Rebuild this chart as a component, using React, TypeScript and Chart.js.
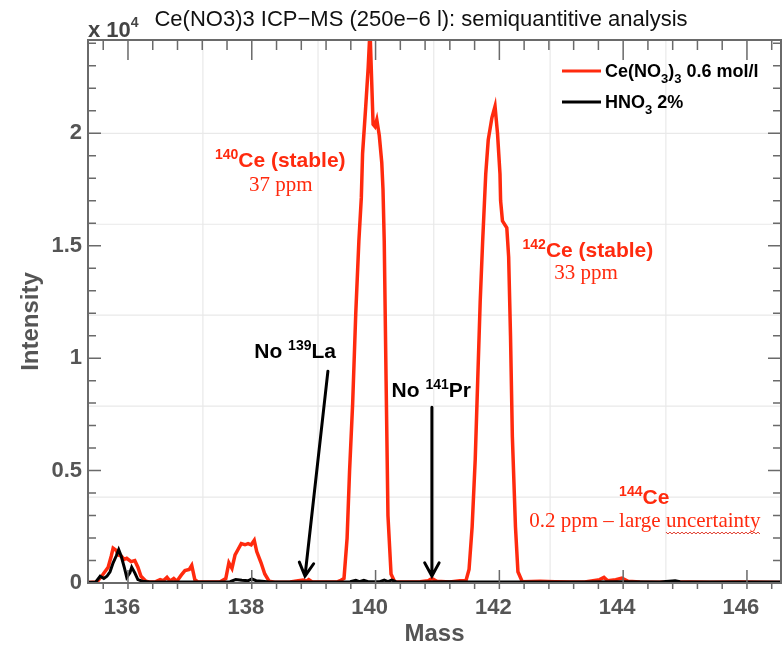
import React, { useEffect, useRef } from 'react';
import { Chart, registerables } from 'chart.js';

Chart.register(...registerables);

// ---------- data ----------
const massCe = [
  135.354, 135.5, 135.6, 135.68, 135.73, 135.76, 135.81, 135.84, 135.89, 135.94, 135.98,
  136.05, 136.11, 136.16, 136.21, 136.29, 136.36, 136.45, 136.52, 136.57, 136.63, 136.68,
  136.74, 136.79, 136.86, 136.92, 136.99, 137.03, 137.08, 137.13, 137.32, 137.49, 137.58,
  137.63, 137.68, 137.73, 137.78, 137.83, 137.89, 137.94, 137.99, 138.04, 138.08, 138.15,
  138.21, 138.28, 138.37, 138.62, 138.75, 138.83, 138.88, 138.92, 138.97, 139.1, 139.26,
  139.39, 139.44, 139.49, 139.54, 139.58, 139.63, 139.68, 139.73, 139.77, 139.79, 139.84,
  139.88, 139.91, 139.96, 139.99, 140.02, 140.06, 140.1, 140.12, 140.14, 140.17, 140.2,
  140.25, 140.31, 140.56, 140.72, 140.85, 140.91, 140.99, 141.2, 141.36, 141.46, 141.51,
  141.56, 141.61, 141.65, 141.69, 141.73, 141.78, 141.82, 141.88, 141.93, 141.97, 142.01,
  142.02, 142.05, 142.12, 142.15, 142.18, 142.21, 142.26, 142.3, 142.37, 142.66, 142.9,
  143.14, 143.38, 143.62, 143.69, 143.75, 143.88, 143.98, 144.08, 144.27, 144.6, 145.08,
  145.4, 145.89, 146.55,
];
const intensityCe = [
  20, 50, 400, 700, 1200, 1550, 1450, 1250, 1200, 1050, 1100,
  950, 1000, 700, 300, 80, 40, 60, 150, 100, 250, 80,
  200, 80, 350, 550, 600, 780, 150, 50, 40, 60, 200,
  900, 650, 1250, 1500, 1750, 1700, 1750, 1700, 1900, 1400, 900,
  400, 80, 30, 40, 100, 130, 80, 150, 60, 50, 40,
  60, 120, 200, 2000, 5000, 8000, 12000, 15200, 17150, 19100, 21150,
  22900, 24600, 20400, 20300, 20600, 19900, 18700, 17500, 15200, 9000, 3000,
  400, 50, 40, 60, 100, 200, 80, 50, 100, 100, 600,
  2500, 5500, 9000, 12500, 15200, 18200, 19700, 20700, 21200, 20000, 18200,
  17000, 16100, 15800, 14500, 11000, 6500, 2500, 500, 60, 80, 60,
  40, 50, 150, 250, 100, 150, 220, 80, 40, 30, 50,
  30, 40, 20,
];
const massHNO3 = [
  135.354, 135.48, 135.55, 135.61, 135.66, 135.71, 135.76, 135.81, 135.85, 135.89, 135.94,
  135.98, 136.03, 136.06, 136.11, 136.16, 136.23, 136.36, 136.76, 137.16, 137.65, 137.74,
  137.84, 137.94, 138.0, 138.07, 138.16, 138.29, 138.78, 139.59, 139.68, 139.74, 139.81,
  139.88, 140.07, 140.14, 140.2, 140.26, 140.33, 140.72, 141.2, 141.53, 142.33, 143.3,
  143.95, 144.59, 144.84, 144.92, 145.24, 146.05, 146.55,
];
const intensityHNO3 = [
  30, 50, 300, 200, 300, 500, 900, 1200, 1480, 1200, 700,
  250, 450, 700, 450, 150, 80, 50, 40, 50, 60, 150,
  120, 100, 180, 100, 80, 50, 40, 60, 120, 60, 120,
  60, 60, 130, 60, 130, 60, 40, 60, 40, 50, 40,
  60, 40, 100, 60, 40, 50, 40,
];

const xTickValues = [136, 138, 140, 142, 144, 146];
const xTickLabels = ['136', '138', '140', '142', '144', '146'];
const yTickValues = [0, 5000, 10000, 15000, 20000];
const yTickLabels = ['0', '0.5', '1', '1.5', '2'];
const xMin = 135.354;
const xMax = 146.55;
const yMin = 0;
const yMax = 24150;
const xMinorStep = 0.4;
const yMinorStep = 1000;

const titleText = 'Ce(NO3)3 ICP\u2212MS (250e\u22126 l): semiquantitive analysis';
const xTitle = 'Mass';
const yTitle = 'Intensity';

// faint background grid of the source slide (mass / intensity)
const bgGridMass = [137.21, 139.07, 140.94, 142.82, 144.69];
const bgGridIntensity = [3822, 7866, 11911, 15955, 20000];

const RED = '#ff2a0e';
const SANS = '"Liberation Sans", Arial, Helvetica, sans-serif';
const SERIF = '"Liberation Serif", "Times New Roman", serif';
const AXIS = '#6a6a6a';
const LABEL = '#555555';

type Seg = { t: string; f: string; dy?: number; c?: string };

function drawRich(ctx: CanvasRenderingContext2D, segs: Seg[], x: number, y: number, align: 'left' | 'center', color: string) {
  let total = 0;
  for (const s of segs) { ctx.font = s.f; total += ctx.measureText(s.t).width; }
  let cx = align === 'center' ? x - total / 2 : x;
  ctx.textAlign = 'left';
  ctx.textBaseline = 'alphabetic';
  const starts: number[] = [];
  for (const s of segs) {
    ctx.font = s.f;
    ctx.fillStyle = s.c || color;
    starts.push(cx);
    ctx.fillText(s.t, cx, y + (s.dy || 0));
    cx += ctx.measureText(s.t).width;
  }
  return { starts, end: cx };
}

function arrow(ctx: CanvasRenderingContext2D, x1: number, y1: number, x2: number, y2: number) {
  ctx.beginPath();
  ctx.moveTo(x1, y1);
  ctx.lineTo(x2, y2);
  const ang = Math.atan2(y2 - y1, x2 - x1);
  const L = 15, A = 0.5;
  ctx.moveTo(x2 - L * Math.cos(ang - A), y2 - L * Math.sin(ang - A));
  ctx.lineTo(x2, y2);
  ctx.lineTo(x2 - L * Math.cos(ang + A), y2 - L * Math.sin(ang + A));
  ctx.stroke();
}

const decor = {
  id: 'decor',
  beforeDatasetsDraw(chart: any) {
    const { ctx, chartArea: a, scales } = chart;
    const x = scales.x, y = scales.y;
    ctx.save();
    ctx.strokeStyle = '#e9e9e9';
    ctx.lineWidth = 1.2;
    ctx.beginPath();
    for (const m of bgGridMass) {
      const px = x.getPixelForValue(m);
      ctx.moveTo(px, a.top); ctx.lineTo(px, a.bottom);
    }
    for (const v of bgGridIntensity) {
      const py = y.getPixelForValue(v);
      ctx.moveTo(a.left, py); ctx.lineTo(a.right, py);
    }
    ctx.stroke();
    ctx.restore();
  },
  afterDraw(chart: any) {
    const { ctx, chartArea: a, scales } = chart;
    const x = scales.x, y = scales.y;
    ctx.save();
    // frame
    ctx.strokeStyle = AXIS;
    ctx.lineWidth = 2;
    ctx.strokeRect(a.left, a.top, a.right - a.left, a.bottom - a.top);
    // x ticks
    ctx.lineWidth = 1.5;
    ctx.beginPath();
    for (let v = Math.ceil(xMin / xMinorStep) * xMinorStep; v <= xMax + 1e-9; v += xMinorStep) {
      const vv = Math.round(v * 10) / 10;
      const major = xTickValues.some((t) => Math.abs(t - vv) < 1e-6);
      const px = x.getPixelForValue(vv);
      ctx.moveTo(px, a.bottom + 6);
      ctx.lineTo(px, a.bottom - (major ? 13 : 0));
      ctx.moveTo(px, a.top);
      ctx.lineTo(px, a.top + (major ? 20 : 10));
    }
    // y ticks
    for (let v = 0; v <= yMax + 1e-9; v += yMinorStep) {
      const major = yTickValues.includes(v);
      const py = y.getPixelForValue(v);
      ctx.moveTo(a.left, py);
      ctx.lineTo(a.left + (major ? 13 : 8), py);
      ctx.moveTo(a.right, py);
      ctx.lineTo(a.right - (major ? 13 : 8), py);
    }
    ctx.stroke();

    // title
    ctx.fillStyle = '#111';
    ctx.font = `22px ${SANS}`;
    ctx.textAlign = 'center';
    ctx.textBaseline = 'alphabetic';
    ctx.fillText(titleText, 421, 26);
    // exponent
    drawRich(ctx, [
      { t: 'x 10', f: `bold 22px ${SANS}` },
      { t: '4', f: `bold 14px ${SANS}`, dy: -10 },
    ], a.left, a.top - 3, 'left', '#444');

    // axis titles
    ctx.fillStyle = LABEL;
    ctx.font = `bold 24px ${SANS}`;
    ctx.textAlign = 'center';
    ctx.textBaseline = 'alphabetic';
    ctx.fillText(xTitle, (a.left + a.right) / 2, 641);
    ctx.save();
    ctx.translate(38, (a.top + a.bottom) / 2 + 10);
    ctx.rotate(-Math.PI / 2);
    ctx.fillText(yTitle, 0, 0);
    ctx.restore();

    // legend
    const lx = a.right - 219;
    ctx.lineWidth = 3;
    ctx.strokeStyle = RED;
    ctx.beginPath(); ctx.moveTo(lx, a.top + 31); ctx.lineTo(lx + 39, a.top + 31); ctx.stroke();
    ctx.strokeStyle = '#000';
    ctx.beginPath(); ctx.moveTo(lx, a.top + 62); ctx.lineTo(lx + 39, a.top + 62); ctx.stroke();
    const LF = `bold 18px ${SANS}`, LS = `bold 13px ${SANS}`;
    drawRich(ctx, [
      { t: 'Ce(NO', f: LF }, { t: '3', f: LS, dy: 6 }, { t: ')', f: LF }, { t: '3', f: LS, dy: 6 }, { t: ' 0.6 mol/l', f: LF },
    ], lx + 43, a.top + 37, 'left', '#000');
    drawRich(ctx, [
      { t: 'HNO', f: LF }, { t: '3', f: LS, dy: 6 }, { t: ' 2%', f: LF },
    ], lx + 43, a.top + 68, 'left', '#000');

    // annotations
    const B = `bold 21px ${SANS}`, SUP = `bold 14px ${SANS}`, SER = `21px ${SERIF}`;
    const X = (m: number) => x.getPixelForValue(m);
    const Y = (v: number) => y.getPixelForValue(v);
    drawRich(ctx, [{ t: '140', f: SUP, dy: -8 }, { t: 'Ce (stable)', f: B }], X(138.46), Y(18490), 'center', RED);
    drawRich(ctx, [{ t: '37 ppm', f: SER }], X(138.47), Y(17420), 'center', RED);
    drawRich(ctx, [{ t: '142', f: SUP, dy: -8 }, { t: 'Ce (stable)', f: B }], X(143.43), Y(14490), 'center', RED);
    drawRich(ctx, [{ t: '33 ppm', f: SER }], X(143.4), Y(13530), 'center', RED);
    drawRich(ctx, [{ t: '144', f: SUP, dy: -8 }, { t: 'Ce', f: B }], X(144.34), Y(3510), 'center', RED);
    const r = drawRich(ctx, [{ t: '0.2 ppm \u2013 large ', f: SER }, { t: 'uncertainty', f: SER }], X(144.35), Y(2490), 'center', RED);
    // spell-check squiggle
    ctx.strokeStyle = '#e03a2a';
    ctx.lineWidth = 1;
    ctx.beginPath();
    const sy = Y(2490) + 5;
    for (let px = r.starts[1], k = 0; px <= r.end; px += 2, k++) {
      const yy = sy + (k % 2 === 0 ? 0 : 2);
      if (k === 0) ctx.moveTo(px, yy); else ctx.lineTo(px, yy);
    }
    ctx.stroke();

    drawRich(ctx, [{ t: 'No ', f: `bold 21px ${SANS}` }, { t: '139', f: SUP, dy: -8 }, { t: 'La', f: `bold 21px ${SANS}` }], X(138.7), Y(10000), 'center', '#000');
    drawRich(ctx, [{ t: 'No ', f: `bold 21px ${SANS}` }, { t: '141', f: SUP, dy: -8 }, { t: 'Pr', f: `bold 21px ${SANS}` }], X(140.9), Y(8270), 'center', '#000');

    ctx.strokeStyle = '#000';
    ctx.lineWidth = 3;
    ctx.lineCap = 'round';
    arrow(ctx, X(139.23), Y(9420), X(138.86), Y(310));
    arrow(ctx, X(140.91), Y(7820), X(140.91), Y(310));
    ctx.restore();
  },
};

export default function App() {
  const ref = useRef<HTMLCanvasElement | null>(null);
  useEffect(() => {
    if (!ref.current) return;
    const chart = new Chart(ref.current, {
      type: 'line',
      data: {
        datasets: [
          {
            label: 'Ce(NO3)3 0.6 mol/l',
            data: massCe.map((m, i) => ({ x: m, y: intensityCe[i] })),
            borderColor: RED,
            borderWidth: 3.5,
            pointRadius: 0,
            tension: 0,
            order: 2,
          },
          {
            label: 'HNO3 2%',
            data: massHNO3.map((m, i) => ({ x: m, y: intensityHNO3[i] })),
            borderColor: '#000',
            borderWidth: 3,
            pointRadius: 0,
            tension: 0,
            order: 1,
          },
        ],
      },
      options: {
        responsive: false,
        animation: false,
        events: [],
        layout: { padding: { left: 0, right: 3, top: 40, bottom: 0 } },
        plugins: { legend: { display: false }, tooltip: { enabled: false }, title: { display: false } },
        scales: {
          x: {
            type: 'linear',
            min: xMin,
            max: xMax,
            grid: { display: false, drawTicks: false },
            border: { display: false },
            afterBuildTicks: (s: any) => { s.ticks = xTickValues.map((v) => ({ value: v })); },
            afterFit: (s: any) => { s.height = 63; },
            ticks: {
              autoSkip: false,
              maxRotation: 0,
              padding: 12,
              labelOffset: -6,
              color: LABEL,
              font: { family: SANS, size: 22, weight: 'bold' },
              callback: (v: any) => xTickLabels[xTickValues.indexOf(Number(v))] ?? '',
            },
          },
          y: {
            type: 'linear',
            min: yMin,
            max: yMax,
            grid: { display: false, drawTicks: false },
            border: { display: false },
            afterBuildTicks: (s: any) => { s.ticks = yTickValues.map((v) => ({ value: v })); },
            afterFit: (s: any) => { s.width = 88; },
            ticks: {
              autoSkip: false,
              padding: 6,
              color: LABEL,
              font: { family: SANS, size: 22, weight: 'bold' },
              callback: (v: any) => yTickLabels[yTickValues.indexOf(Number(v))] ?? '',
            },
          },
        },
      },
      plugins: [decor],
    } as any);
    return () => chart.destroy();
  }, []);
  return (
    <div style={{ position: 'absolute', left: 0, top: 0, width: 784, height: 646, background: '#fff' }}>
      <canvas ref={ref} width={784} height={646} style={{ display: 'block', width: 784, height: 646 }} />
    </div>
  );
}
